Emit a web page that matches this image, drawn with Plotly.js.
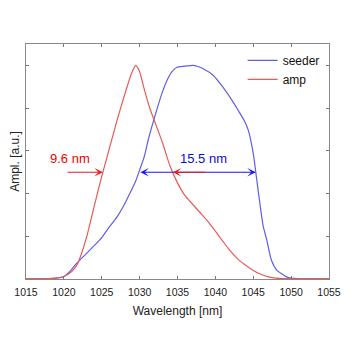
<!DOCTYPE html>
<html>
<head>
<meta charset="utf-8">
<script src="https://cdn.plot.ly/plotly-3.0.1.min.js"></script>
<style>html,body{margin:0;padding:0;background:#fff;}#chart{width:354px;height:354px;}</style>
</head>
<body>
<div id="chart"></div>
<script>
// Seeder spectrum (blue)
const seederWavelength = [1015, 1017, 1018, 1019, 1020, 1020.8, 1021.7, 1023, 1024, 1025, 1026, 1027, 1028, 1028.7, 1029.5, 1030, 1030.6, 1031.2, 1031.9, 1032.5, 1033.1, 1033.7, 1034.3, 1035, 1036, 1037, 1037.6, 1038.4, 1039.7, 1041, 1042.2, 1043, 1043.8, 1044.35, 1045, 1045.3, 1045.7, 1046.3, 1046.8, 1047.4, 1048.1, 1049.4, 1050, 1051, 1055];
const seederAmpl = [0.01, 0.01, 0.01, 0.02, 0.06, 0.18, 0.37, 0.6, 0.78, 0.97, 1.22, 1.45, 1.75, 2.0, 2.3, 2.55, 2.86, 3.3, 3.74, 4.1, 4.42, 4.68, 4.86, 4.96, 4.98, 5.0, 4.98, 4.92, 4.77, 4.49, 4.18, 3.95, 3.71, 3.48, 2.94, 2.55, 2.0, 1.25, 0.9, 0.44, 0.21, 0.05, 0.02, 0.01, 0.01];
// Amplified spectrum (red)
const ampWavelength = [1015, 1016, 1017, 1018, 1019, 1020, 1021, 1021.7, 1022.3, 1023, 1024, 1025, 1026, 1027, 1028, 1028.9, 1029.5, 1030, 1030.6, 1031.3, 1032, 1033, 1034, 1035, 1036, 1037, 1038, 1039, 1040, 1041, 1042, 1043, 1044, 1045, 1046, 1047, 1048, 1049, 1050, 1055];
const ampAmpl = [0.01, 0.01, 0.01, 0.01, 0.02, 0.06, 0.17, 0.32, 0.58, 0.98, 1.7, 2.4, 3.05, 3.7, 4.3, 4.8, 5.0, 4.85, 4.45, 4.02, 3.68, 3.2, 2.65, 2.25, 1.95, 1.75, 1.55, 1.35, 1.12, 0.88, 0.65, 0.46, 0.32, 0.2, 0.11, 0.05, 0.02, 0.01, 0.01, 0.01];
const seriesNames = ['seeder', 'amp'];
const xTickValues = [1015, 1020, 1025, 1030, 1035, 1040, 1045, 1050, 1055];
const fwhmLabels = ['9.6 nm', '15.5 nm'];

const FONT = 'Liberation Sans, Arial, sans-serif';
const BLUE_LINE = 'rgb(95,95,230)';
const RED_LINE = 'rgb(232,90,90)';
const BLUE_ARROW = 'rgb(25,25,240)';
const RED_ARROW = 'rgb(240,25,25)';

// half-maximum crossings, computed from the data
function halfMax(xs, ys) {
  const m = Math.max.apply(null, ys), h = m / 2;
  let left = null, right = null;
  for (let i = 1; i < ys.length; i++) {
    if (left === null && ys[i - 1] < h && ys[i] >= h) left = xs[i - 1] + (h - ys[i - 1]) / (ys[i] - ys[i - 1]) * (xs[i] - xs[i - 1]);
    if (ys[i - 1] >= h && ys[i] < h) right = xs[i - 1] + (ys[i - 1] - h) / (ys[i - 1] - ys[i]) * (xs[i] - xs[i - 1]);
  }
  return {h: h, left: left, right: right};
}
const hs = halfMax(seederWavelength, seederAmpl);
const ha = halfMax(ampWavelength, ampAmpl);

const traces = [
  {x: seederWavelength, y: seederAmpl, name: seriesNames[0], type: 'scatter', mode: 'lines',
   line: {color: BLUE_LINE, width: 1.2, shape: 'spline', smoothing: 0.6}},
  {x: ampWavelength, y: ampAmpl, name: seriesNames[1], type: 'scatter', mode: 'lines',
   line: {color: RED_LINE, width: 1.2, shape: 'spline', smoothing: 0.6}}
];

const arrowCommon = {xref: 'x', yref: 'y', axref: 'x', ayref: 'y', showarrow: true, text: '',
  arrowhead: 3, arrowsize: 1.3, arrowwidth: 1.1, standoff: 0, startstandoff: 0};

const annotations = [
  Object.assign({}, arrowCommon, {x: hs.right, y: hs.h, ax: hs.left, ay: hs.h, arrowcolor: BLUE_ARROW,
    arrowside: 'end+start', startarrowhead: 3, startarrowsize: 1.3}),
  Object.assign({}, arrowCommon, {x: ha.left, y: ha.h, ax: 1020.3, ay: ha.h, arrowcolor: RED_ARROW}),
  Object.assign({}, arrowCommon, {x: ha.right, y: ha.h, ax: 1038.85, ay: ha.h, arrowcolor: RED_ARROW}),
  {xref: 'x', yref: 'y', x: 1020.8, y: 2.83, text: fwhmLabels[0], showarrow: false,
   font: {family: FONT, size: 13, color: 'rgb(235,0,0)'}, xanchor: 'center', yanchor: 'middle'},
  {xref: 'x', yref: 'y', x: 1038.4, y: 2.83, text: fwhmLabels[1], showarrow: false,
   font: {family: FONT, size: 13, color: 'rgb(10,10,220)'}, xanchor: 'center', yanchor: 'middle'}
];

const layout = {
  width: 354, height: 354,
  margin: {l: 26, r: 25, t: 44, b: 75},
  paper_bgcolor: '#fff', plot_bgcolor: '#fff',
  font: {family: FONT, size: 11, color: '#222'},
  showlegend: true,
  legend: {x: 0.715, y: 0.992, xanchor: 'left', yanchor: 'top', bgcolor: 'rgba(0,0,0,0)',
    borderwidth: 0, font: {family: FONT, size: 12, color: '#111'}, tracegroupgap: 0},
  xaxis: {range: [1015, 1055], tickvals: xTickValues, ticks: 'inside', ticklen: 3,
    tickcolor: '#777', showline: true, linecolor: '#888', linewidth: 1, mirror: 'ticks',
    showgrid: false, zeroline: false, ticklabelstandoff: 3,
    tickfont: {family: FONT, size: 10.5, color: '#222'},
    title: {text: 'Wavelength [nm]', font: {family: FONT, size: 12, color: '#222'}, standoff: 10}},
  yaxis: {range: [0, 5.5], dtick: 1, tick0: 0, ticks: 'inside', ticklen: 3, tickcolor: '#777',
    showline: true, linecolor: '#888', linewidth: 1, mirror: 'ticks', showgrid: false,
    zeroline: false, showticklabels: false,
    title: {text: 'Ampl. [a.u.]', font: {family: FONT, size: 12, color: '#222'}, standoff: 2}},
  annotations: annotations
};

Plotly.newPlot('chart', traces, layout, {displayModeBar: false, staticPlot: true});
</script>
</body>
</html>
